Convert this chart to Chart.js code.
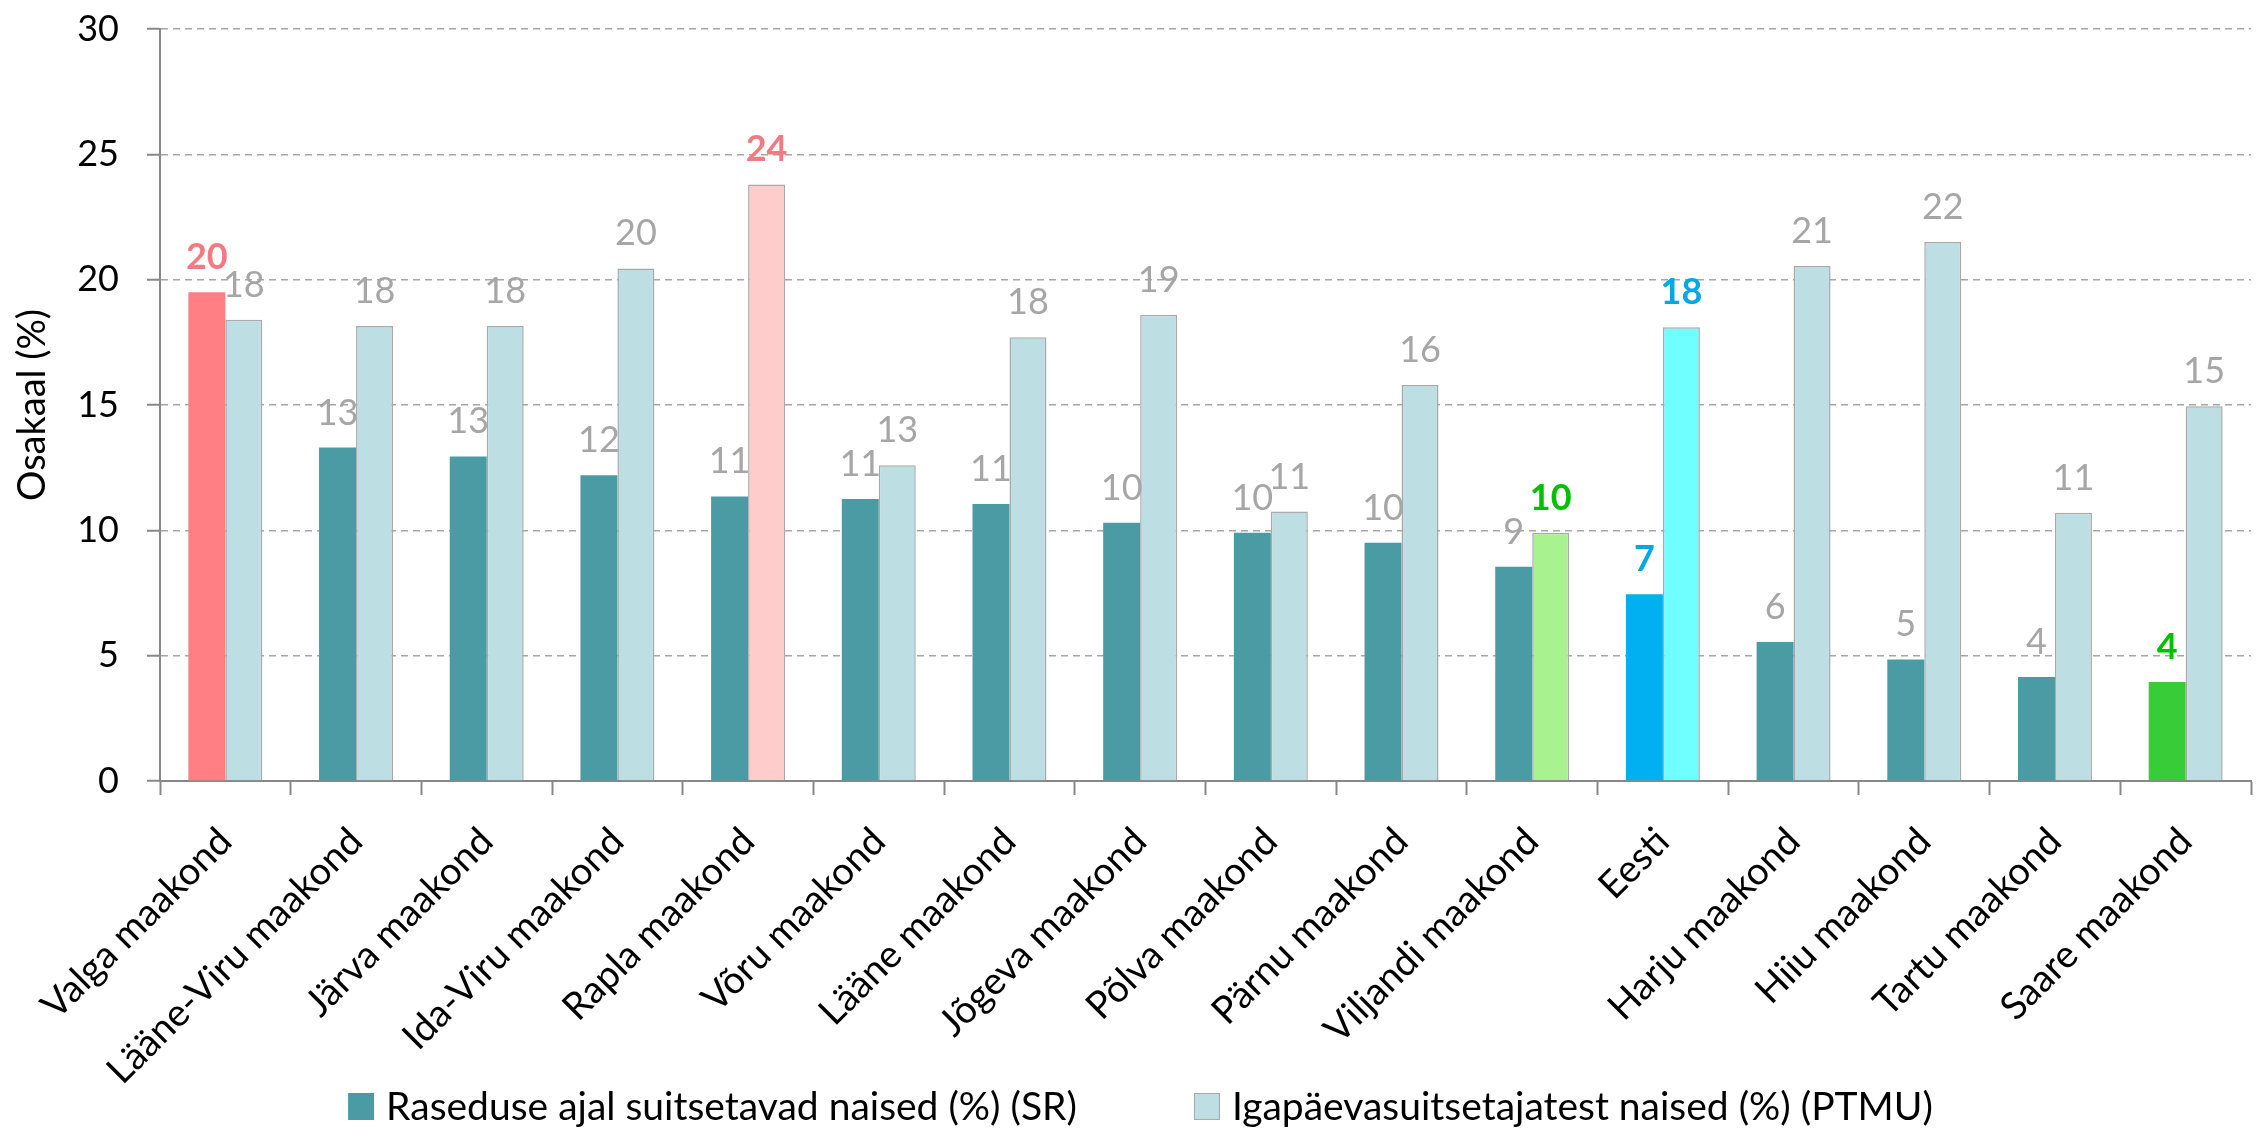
<!DOCTYPE html>
<html>
<head>
  <meta charset="UTF-8">
  <title>Suitsetavad naised maakonniti</title>
  <script src="https://cdn.jsdelivr.net/npm/chart.js"></script>
  <style>
    html, body {
      margin: 0;
      padding: 0;
      background: #ffffff;
    }
    #chartContainer {
      width: 2265px;
      height: 1129px;
    }
  </style>
</head>
<body>

  <div id="chartContainer">
    <canvas id="smokeChart"></canvas>
  </div>

  <script>
    const counties = ['Valga maakond', 'Lääne-Viru maakond', 'Järva maakond', 'Ida-Viru maakond', 'Rapla maakond',
      'Võru maakond', 'Lääne maakond', 'Jõgeva maakond', 'Põlva maakond', 'Pärnu maakond', 'Viljandi maakond',
      'Eesti', 'Harju maakond', 'Hiiu maakond', 'Tartu maakond', 'Saare maakond'];

    // Raseduse ajal suitsetavad naised (%) (SR)
    const pregnantSmokers = [19.5, 13.3, 12.95, 12.2, 11.35, 11.25, 11.05, 10.3, 9.9, 9.5, 8.55, 7.45, 5.55, 4.85, 4.15, 3.95];
    // Igapäevasuitsetajatest naised (%) (PTMU)
    const dailySmokers = [18.4, 18.15, 18.15, 20.45, 23.8, 12.6, 17.7, 18.6, 10.75, 15.8, 9.9, 18.1, 20.55, 21.5, 10.7, 14.95];

    const yMin = 0, yMax = 30, yStep = 5;

    const seriesNames = ['Raseduse ajal suitsetavad naised (%) (SR)', 'Igapäevasuitsetajatest naised (%) (PTMU)'];

    // colours: base + highlighted bars (index -> colour)
    const srBase = '#4B9BA4';
    const ptmuBase = '#BDDEE2';
    const srHighlight = { 0: '#FF7F84', 11: '#00B0F0', 15: '#39CC39' };
    const ptmuHighlight = { 4: '#FFCCCC', 10: '#A8F290', 11: '#6FFFFF' };
    const srLabelHighlight = { 0: '#F47A82', 11: '#00A8E8', 15: '#00C000' };
    const ptmuLabelHighlight = { 4: '#F47A82', 10: '#00C000', 11: '#00A8E8' };

    const srColors = counties.map((c, i) => srHighlight[i] || srBase);
    const ptmuColors = counties.map((c, i) => ptmuHighlight[i] || ptmuBase);
    const srLabelColors = counties.map((c, i) => srLabelHighlight[i] || null);
    const ptmuLabelColors = counties.map((c, i) => ptmuLabelHighlight[i] || null);

    Chart.defaults.font.family = 'Lato, "Open Sans", sans-serif';

    // value labels above each bar
    const valueLabels = {
      id: 'valueLabels',
      afterDatasetsDraw(chart) {
        const ctx = chart.ctx;
        ctx.save();
        ctx.textAlign = 'center';
        ctx.textBaseline = 'alphabetic';
        chart.data.datasets.forEach((ds, di) => {
          chart.getDatasetMeta(di).data.forEach((bar, i) => {
            const hl = ds.labelColors[i];
            ctx.font = (hl ? 'bold ' : '') + '36px Lato';
            ctx.fillStyle = hl || '#A6A6A6';
            ctx.fillText(String(Math.round(ds.data[i])), bar.x, bar.y - 23);
          });
        });
        ctx.restore();
      }
    };

    // legend in one row at the bottom, wide gap between items
    const bottomLegend = {
      id: 'bottomLegend',
      afterDraw(chart) {
        const ctx = chart.ctx;
        ctx.save();
        ctx.font = '39px Lato';
        const box = 26, textGap = 12, itemGap = 117;
        const items = chart.data.datasets;
        const widths = items.map(ds => box + textGap + ctx.measureText(ds.label).width);
        const total = widths.reduce((a, b) => a + b, 0) + itemGap * (items.length - 1);
        let x = chart.width / 2 + 8 - total / 2;
        const baseY = chart.height - 9;
        items.forEach((ds, i) => {
          ctx.fillStyle = ds.legendColor;
          ctx.fillRect(x, baseY - 27, box, 27);
          if (ds.legendBorder) {
            ctx.strokeStyle = ds.legendBorder;
            ctx.lineWidth = 1;
            ctx.strokeRect(x + 0.5, baseY - 26.5, box - 1, 26);
          }
          ctx.fillStyle = '#000000';
          ctx.textBaseline = 'alphabetic';
          ctx.fillText(ds.label, x + box + textGap, baseY);
          x += widths[i] + itemGap;
        });
        ctx.restore();
      }
    };

    const ctx = document.getElementById('smokeChart').getContext('2d');
    new Chart(ctx, {
      type: 'bar',
      data: {
        labels: counties,
        datasets: [
          {
            label: seriesNames[0],
            data: pregnantSmokers,
            backgroundColor: srColors,
            borderWidth: 0,
            legendColor: srBase,
            labelColors: srLabelColors
          },
          {
            label: seriesNames[1],
            data: dailySmokers,
            backgroundColor: ptmuColors,
            borderColor: '#A9A9A9',
            borderWidth: 1.5,
            legendColor: ptmuBase,
            legendBorder: '#A9A9A9',
            labelColors: ptmuLabelColors
          }
        ]
      },
      options: {
        responsive: true,
        maintainAspectRatio: false,
        animation: false,
        categoryPercentage: 0.566,
        barPercentage: 1.0,
        layout: {
          padding: { top: 29, right: 14, bottom: 0, left: 0 }
        },
        plugins: {
          legend: { display: false },
          tooltip: { enabled: false }
        },
        scales: {
          x: {
            grid: {
              display: true,
              offset: true,
              drawOnChartArea: false,
              drawTicks: true,
              tickLength: 14,
              tickColor: '#888888',
              tickWidth: 2,
              tickBorderDash: []
            },
            border: { display: true, color: '#888888', width: 2 },
            ticks: {
              color: '#000000',
              font: { size: 38 },
              minRotation: 45,
              maxRotation: 45,
              autoSkip: false,
              padding: 24
            },
            afterFit: (scale) => { scale.height = 348; }
          },
          y: {
            min: yMin,
            max: yMax,
            ticks: {
              stepSize: yStep,
              color: '#000000',
              font: { size: 36 },
              padding: 28
            },
            grid: {
              color: '#A6A6A6',
              lineWidth: 1.5,
              drawTicks: true,
              tickLength: 13,
              tickColor: '#888888',
              tickWidth: 2,
              tickBorderDash: []
            },
            border: { display: true, color: '#888888', width: 2, dash: [7, 5] },
            title: {
              display: true,
              text: 'Osakaal (%)',
              color: '#000000',
              font: { size: 38 },
              padding: { top: 10, bottom: 0 }
            },
            afterFit: (scale) => {
              scale.width = 160;
              scale.paddingTop = 0;
              scale.paddingBottom = 0;
            }
          }
        }
      },
      plugins: [valueLabels, bottomLegend]
    });
  </script>

</body>
</html>
